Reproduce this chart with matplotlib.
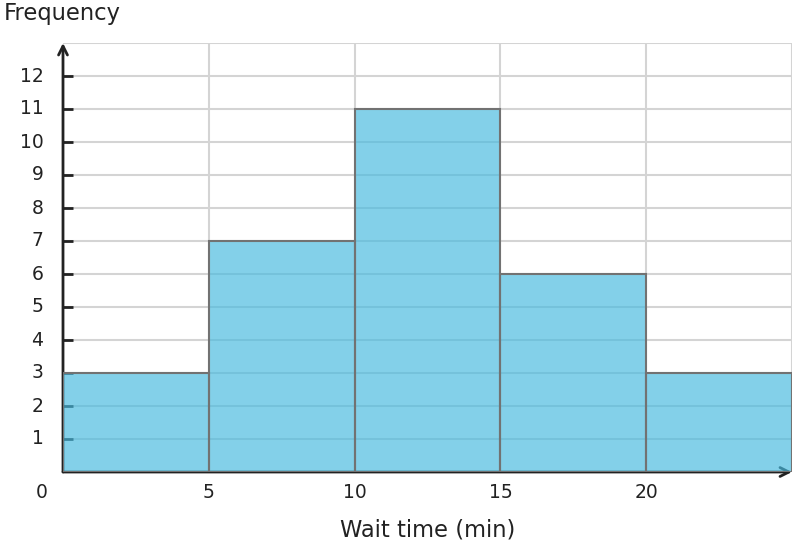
import matplotlib
matplotlib.use("Agg")
import matplotlib.pyplot as plt
import matplotlib.transforms as mtransforms

# histogram data
bin_edges = [0, 5, 10, 15, 20, 25]
freqs = [3, 7, 11, 6, 3]
y_ticks = list(range(1, 13))
x_ticks = [0, 5, 10, 15, 20]

plt.rcParams['font.family'] = ['DejaVu Sans']
txt = '#222222'

fig = plt.figure(figsize=(7.96, 5.48), dpi=100)
ax = fig.add_axes([63/796, 1-472/548, (792-63)/796, (472-43)/548])
ax.set_xlim(0, 25)
ax.set_ylim(0, 13)

# grid drawn by hand so the 13 / 25 lines exist without ticks
for yv in range(1, 14):
    ax.axhline(yv, color='#d4d4d4', lw=1.5, zorder=0)
for xv in range(5, 26, 5):
    ax.axvline(xv, color='#d4d4d4', lw=1.5, zorder=0)

widths = [bin_edges[i+1] - bin_edges[i] for i in range(len(freqs))]
ax.bar(bin_edges[:-1], freqs, width=widths, align='edge',
       color='#47BADF', alpha=0.67, edgecolor='none', zorder=3)
ax.bar(bin_edges[:-1], freqs, width=widths, align='edge',
       fill=False, edgecolor='#727272', linewidth=1.5, zorder=4)

for s in ['top', 'right', 'left', 'bottom']:
    ax.spines[s].set_visible(False)

# axis lines with arrows
ax.annotate('', xy=(0, 13), xytext=(0, 0), annotation_clip=False,
            arrowprops=dict(arrowstyle='->', lw=2, color=txt, shrinkA=0, shrinkB=0,
                            mutation_scale=16), zorder=2)
ax.annotate('', xy=(25, 0), xytext=(0, 0), annotation_clip=False,
            arrowprops=dict(arrowstyle='->', lw=2, color=txt, shrinkA=0, shrinkB=0,
                            mutation_scale=16), zorder=2)

ax.set_yticks(y_ticks)
ax.set_yticklabels([str(v) for v in y_ticks])
ax.tick_params(axis='y', direction='in', length=7.5, width=2, color=txt,
               labelsize=13.5, labelcolor=txt, pad=14)
for lab in ax.get_yticklabels():
    lab.set_transform(lab.get_transform() +
                      mtransforms.ScaledTranslation(0, 0.02, fig.dpi_scale_trans))
ax.set_xticks(x_ticks)
ax.set_xticklabels([str(v) for v in x_ticks])
ax.tick_params(axis='x', length=0, labelsize=13.5, labelcolor=txt, pad=8)

# shift the "0" label left of the origin
lab0 = ax.get_xticklabels()[0]
lab0.set_transform(lab0.get_transform() +
                   mtransforms.ScaledTranslation(-0.21, 0, fig.dpi_scale_trans))

ax.set_xlabel('Wait time (min)', fontsize=16.3, color=txt, labelpad=12)
fig.text(4/796, 1-2/548, 'Frequency', fontsize=16.3, color=txt, ha='left', va='top')

fig.savefig('out.png', dpi=100)
